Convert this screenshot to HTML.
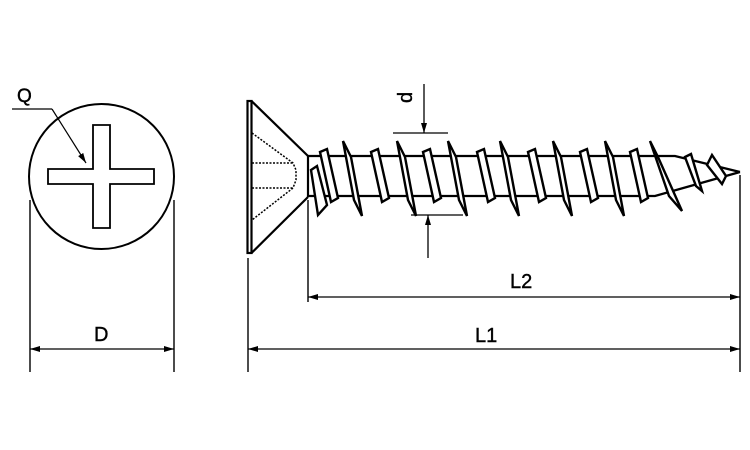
<!DOCTYPE html>
<html><head><meta charset="utf-8"><style>
html,body{margin:0;padding:0;background:#fff;}
svg{display:block;}
text{font-family:"Liberation Sans","DejaVu Sans",sans-serif;fill:#000;}
</style></head><body>
<svg width="750" height="450" viewBox="0 0 750 450" xmlns="http://www.w3.org/2000/svg">
<defs>
<marker id="a" markerWidth="10" markerHeight="6" refX="10" refY="3" orient="auto" markerUnits="userSpaceOnUse">
<path d="M0,0 L10,3 L0,6 Z" fill="#000"/></marker>
</defs>
<circle cx="101.5" cy="176.5" r="72.5" fill="none" stroke="#000" stroke-width="2"/>
<path d="M93,125 H110 V169 H154 V184 H110 V228 H93 V184 H48 V169 H93 Z" fill="none" stroke="#000" stroke-width="1.8"/>
<polyline points="12,109 52,109" fill="none" stroke="#000" stroke-width="1.2"/>
<line x1="52" y1="109" x2="86" y2="163" stroke="#000" stroke-width="1.2" marker-end="url(#a)"/>
<text x="17" y="102" font-size="19" stroke="#000" stroke-width="0.4">Q</text>
<line x1="30" y1="200" x2="30" y2="372" stroke="#000" stroke-width="1.4"/>
<line x1="174" y1="200" x2="174" y2="372" stroke="#000" stroke-width="1.4"/>
<line x1="102" y1="349" x2="30" y2="349" stroke="#000" stroke-width="1.3" marker-end="url(#a)"/>
<line x1="102" y1="349" x2="174" y2="349" stroke="#000" stroke-width="1.3" marker-end="url(#a)"/>
<text x="94" y="341" font-size="20" stroke="#000" stroke-width="0.4">D</text>
<g stroke="#000" fill="#fff" stroke-width="2.2">
<rect x="247.5" y="101" width="4" height="152"/>
<polyline points="251.5,101 308,156" fill="none"/>
<polyline points="251.5,253 308,197" fill="none"/>
<line x1="308" y1="156" x2="308" y2="197"/>
</g>
<g stroke="#000" stroke-width="1.5" stroke-dasharray="2,1.5" fill="none">
<polyline points="252,133 293,163 296,170 296,180 293,188 252,220"/>
<line x1="252" y1="163" x2="293" y2="163"/>
<line x1="252" y1="188" x2="293" y2="188"/>
</g>
<g stroke="#000" stroke-width="2.3" fill="none">
<polyline points="308,156 675,156 740,172"/>
<polyline points="308,196 655,196 740,172"/>
</g>
<g stroke="#000" stroke-width="2.4" fill="#fff" stroke-linejoin="miter">
<polygon points="311,170 317,166 327,205 318,215"/>
<polygon points="320,152 327,149 338,198 331,202"/>
<polygon points="371,152 378,149 389,198 382,202"/>
<polygon points="423,152 430,149 441,198 434,202"/>
<polygon points="477,152 484,149 495,198 488,202"/>
<polygon points="528,152 535,149 546,198 539,202"/>
<polygon points="580,152 587,149 598,198 591,202"/>
<polygon points="630,152 637,149 648,198 641,202"/>
<polygon points="343,141 351,157 362,216 354,200"/>
<polygon points="397,141 405,157 416,216 408,200"/>
<polygon points="448,141 456,157 467,216 459,200"/>
<polygon points="500,141 508,157 519,216 511,200"/>
<polygon points="553,141 561,157 572,216 564,200"/>
<polygon points="605,141 613,157 624,216 616,200"/>
<polygon points="650,141 658,157 682,211 669,196"/>
<polygon points="685,157 691,154 702,191 696,186"/>
<polygon points="707,165 712,155 726,176 722,184"/>
</g>
<line x1="393" y1="133" x2="448" y2="133" stroke="#000" stroke-width="1.3"/>
<line x1="424" y1="84" x2="424" y2="133" stroke="#000" stroke-width="1.3" marker-end="url(#a)"/>
<line x1="411" y1="215" x2="463" y2="215" stroke="#000" stroke-width="1.3"/>
<line x1="428" y1="258" x2="428" y2="215" stroke="#000" stroke-width="1.3" marker-end="url(#a)"/>
<text x="0" y="0" font-size="20" stroke="#000" stroke-width="0.4" transform="translate(412,103) rotate(-90)">d</text>
<line x1="248" y1="258" x2="248" y2="372" stroke="#000" stroke-width="1.4"/>
<line x1="308" y1="200" x2="308" y2="302" stroke="#000" stroke-width="1.4"/>
<line x1="740" y1="175" x2="740" y2="372" stroke="#000" stroke-width="1.4"/>
<line x1="524" y1="297" x2="308" y2="297" stroke="#000" stroke-width="1.3" marker-end="url(#a)"/>
<line x1="524" y1="297" x2="740" y2="297" stroke="#000" stroke-width="1.3" marker-end="url(#a)"/>
<line x1="494" y1="349" x2="248" y2="349" stroke="#000" stroke-width="1.3" marker-end="url(#a)"/>
<line x1="494" y1="349" x2="740" y2="349" stroke="#000" stroke-width="1.3" marker-end="url(#a)"/>
<text x="510" y="288" font-size="20" stroke="#000" stroke-width="0.4">L2</text>
<text x="475" y="342" font-size="20" stroke="#000" stroke-width="0.4">L1</text>
</svg>
</body></html>
